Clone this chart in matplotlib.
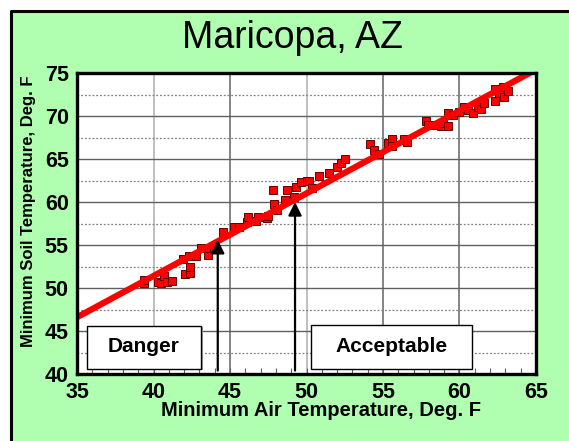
import numpy as np
import matplotlib
matplotlib.use("Agg")
import matplotlib.pyplot as plt
from matplotlib.patches import Rectangle
from matplotlib.lines import Line2D

plt.rcParams['font.family'] = ['Liberation Sans', 'DejaVu Sans']

# measured points (min air temp, min soil temp)
air = [39.4, 39.4, 40.3, 40.5, 40.7, 40.9, 41.2, 41.9, 42.05, 42.4, 42.4, 42.3,
       42.8, 43.1, 43.55, 43.6, 43.95, 44.55, 45.25, 45.6, 46.1, 46.2, 46.7, 46.8,
       47.4, 47.5, 47.8, 47.9, 48.1, 48.6, 48.7, 49.2, 49.3, 49.65, 50.0, 50.15,
       50.35, 50.8, 51.5, 52.0, 52.25, 52.5, 54.15, 54.4, 54.75, 55.3, 55.6, 55.6,
       56.4, 56.6, 57.8, 57.95, 58.4, 58.8, 58.9, 59.25, 59.25, 59.6, 60.0, 60.3,
       60.55, 60.9, 61.2, 61.4, 61.6, 62.3, 62.35, 62.6, 62.85, 62.9, 63.2]
soil = [50.6, 50.9, 50.75, 50.55, 51.4, 50.75, 50.8, 53.35, 51.6, 51.7, 52.5, 53.7,
        53.7, 54.6, 53.8, 54.7, 54.8, 56.5, 57.1, 57.15, 57.7, 58.3, 57.8, 58.2,
        58.1, 58.4, 61.35, 59.8, 59.1, 60.25, 61.35, 60.6, 61.8, 62.3, 62.5, 62.5,
        61.6, 63.0, 63.35, 64.1, 64.5, 65.0, 66.8, 66.0, 65.6, 66.9, 67.3, 66.5,
        67.3, 67.0, 69.4, 69.0, 68.9, 68.8, 69.2, 70.4, 68.8, 70.15, 70.5, 71.0,
        70.7, 70.4, 71.1, 70.8, 71.5, 71.8, 73.1, 72.7, 73.4, 72.2, 72.95]

# regression line
fit_x = [35, 65]
fit_y = [46.6, 75.4]

# arrows (air temp thresholds)
arrow_x = [44.2, 49.25]
arrow_top = [55.6, 60.0]

fig = plt.figure(figsize=(5.69, 4.41), dpi=100, facecolor='white')
bx, by = 11 / 569, 1 - 11 / 441
fig.patches.append(Rectangle((bx, 0), 1 - bx, by, transform=fig.transFigure,
                             facecolor='#b0ffb0', edgecolor='none', zorder=-10))
fig.lines.append(Line2D([bx, bx, 1.0], [0, by, by], transform=fig.transFigure,
                        color='black', lw=2.2, solid_capstyle='projecting'))

ax = fig.add_axes([77 / 569, 1 - 374 / 441, (536 - 77) / 569, (374 - 73) / 441])
ax.set_facecolor('white')
ax.set_xlim(35, 65)
ax.set_ylim(40, 75)

# grid
for gx in [40, 45, 50, 55, 60]:
    c = '#b4b4b4' if gx in (40, 50) else '#707070'
    ax.axvline(gx, color=c, lw=1.2, zorder=1)
for gy in [45, 50, 55, 60, 65, 70]:
    ax.axhline(gy, color='#606060', lw=1.0, zorder=1)
for gy in [42.5, 47.5, 52.5, 57.5, 62.5, 67.5, 72.5]:
    ax.axhline(gy, color='#808080', lw=0.9, ls=(0, (1.5, 1.5)), zorder=1)

ax.plot(air, soil, 's', color='#ff0000', markersize=6, markeredgecolor='#600000',
        markeredgewidth=0.7, zorder=3)
ax.plot(fit_x, fit_y, color='#ff0000', lw=4.5, solid_capstyle='round', zorder=4)

for xa, ya in zip(arrow_x, arrow_top):
    ax.annotate('', xy=(xa, ya), xytext=(xa, 40.4),
                arrowprops=dict(arrowstyle='-|>,head_length=0.8,head_width=0.4',
                                color='black', lw=1.6, shrinkA=0, shrinkB=0),
                zorder=5)

# label boxes
boxes = [(35.63, 40.6, 43.1, 45.6, 'Danger'), (50.27, 40.6, 60.79, 45.65, 'Acceptable')]
for x0, y0, x1, y1, txt in boxes:
    ax.add_patch(Rectangle((x0 + 0.12, y0 - 0.15), x1 - x0, y1 - y0, facecolor='#a0a0a0',
                           edgecolor='none', zorder=5))
    ax.add_patch(Rectangle((x0, y0), x1 - x0, y1 - y0, facecolor='white',
                           edgecolor='black', lw=1.0, zorder=6))
    ax.text((x0 + x1) / 2, (y0 + y1) / 2 + 0.1, txt, ha='center', va='center',
            fontsize=15, fontweight='bold', zorder=7)

ax.set_xticks([35, 40, 45, 50, 55, 60, 65])
ax.set_yticks([40, 45, 50, 55, 60, 65, 70, 75])
ax.set_xticks(np.arange(35, 66, 1), minor=True)
ax.tick_params(axis='x', which='both', direction='in', length=4, width=0.8,
               color='#606060', pad=6)
ax.tick_params(axis='y', which='both', length=0, pad=6)
for lab in ax.get_xticklabels() + ax.get_yticklabels():
    lab.set_fontsize(15.5)
    lab.set_fontweight('bold')

for s in ax.spines.values():
    s.set_linewidth(2.4)
    s.set_color('black')
    s.set_zorder(8)

ax.set_xlabel('Minimum Air Temperature, Deg. F', fontsize=14.5, fontweight='bold')
ax.xaxis.set_label_coords((321 - 77) / 459, -(411 - 374) / 301)
ax.xaxis.label.set_va('center')
ax.set_ylabel('Minimum Soil Temperature, Deg. F', fontsize=12, fontweight='bold')
ax.yaxis.set_label_coords(-(77 - 29) / 459, (374 - 211) / 301)
ax.yaxis.label.set_va('center')

fig.text(292 / 569, 1 - 38 / 441, 'Maricopa, AZ', ha='center', va='center',
         fontsize=27)

fig.savefig('out.png', dpi=100, facecolor=fig.get_facecolor())
